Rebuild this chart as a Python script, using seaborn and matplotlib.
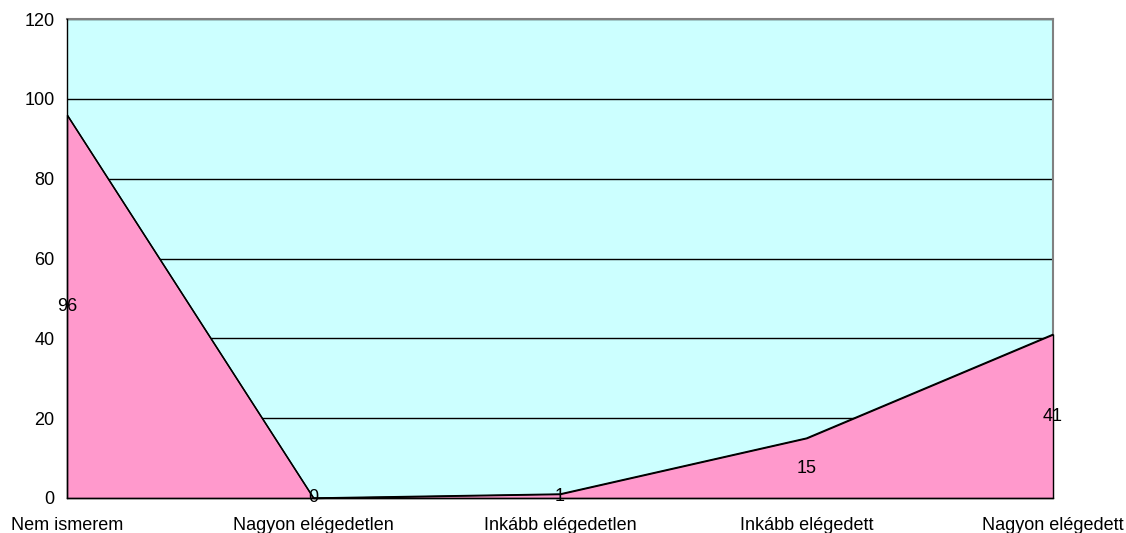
import matplotlib
matplotlib.use('Agg')
import pandas as pd
import seaborn as sns
import matplotlib.pyplot as plt

categories = ['Nem ismerem', 'Nagyon elégedetlen', 'Inkább elégedetlen',
              'Inkább elégedett', 'Nagyon elégedett']
values = [96, 0, 1, 15, 41]

sns.set_style('white')
plt.rcParams['font.family'] = ['Liberation Sans', 'DejaVu Sans']

df = pd.DataFrame({'cat': categories, 'val': values})
df['pos'] = range(len(df))

fig = plt.figure(figsize=(11.26, 5.33), dpi=100)
ax = fig.add_axes([67 / 1126, 1 - 498 / 533, (1053 - 67) / 1126, (498 - 19) / 533])
ax.set_facecolor('#CCFFFF')

# area fill + outline
ax.fill_between(df['pos'], df['val'], 0, facecolor='#FF99CC', edgecolor='black',
                linewidth=1, zorder=2, clip_on=False)
sns.lineplot(x='pos', y='val', data=df, color='black', linewidth=1, ax=ax, zorder=3)

ax.set_xlim(0, len(df) - 1)
ax.set_ylim(0, 120)
ax.set_yticks(range(0, 121, 20))
ax.set_xticks(df['pos'])
ax.set_xticklabels(df['cat'])
ax.yaxis.grid(True, color='black', linewidth=1)
ax.set_axisbelow(True)
ax.set_xlabel('')
ax.set_ylabel('')

for s in ['top', 'right']:
    ax.spines[s].set_color('#808080')
    ax.spines[s].set_linewidth(1.5)
    ax.spines[s].set_zorder(1)
for s in ['left', 'bottom']:
    ax.spines[s].set_color('black')
    ax.spines[s].set_linewidth(1)
    ax.spines[s].set_zorder(4)

ax.tick_params(axis='both', which='both', direction='out', length=5, width=1,
               color='black', labelsize=13, labelcolor='black', pad=4)
ax.tick_params(axis='x', pad=9)

# data labels at half height
for p, v in zip(df['pos'], df['val']):
    ax.text(p, v / 2, str(v), ha='center', va='center', fontsize=13,
            color='black', zorder=5)

fig.savefig('out.png', dpi=100)
